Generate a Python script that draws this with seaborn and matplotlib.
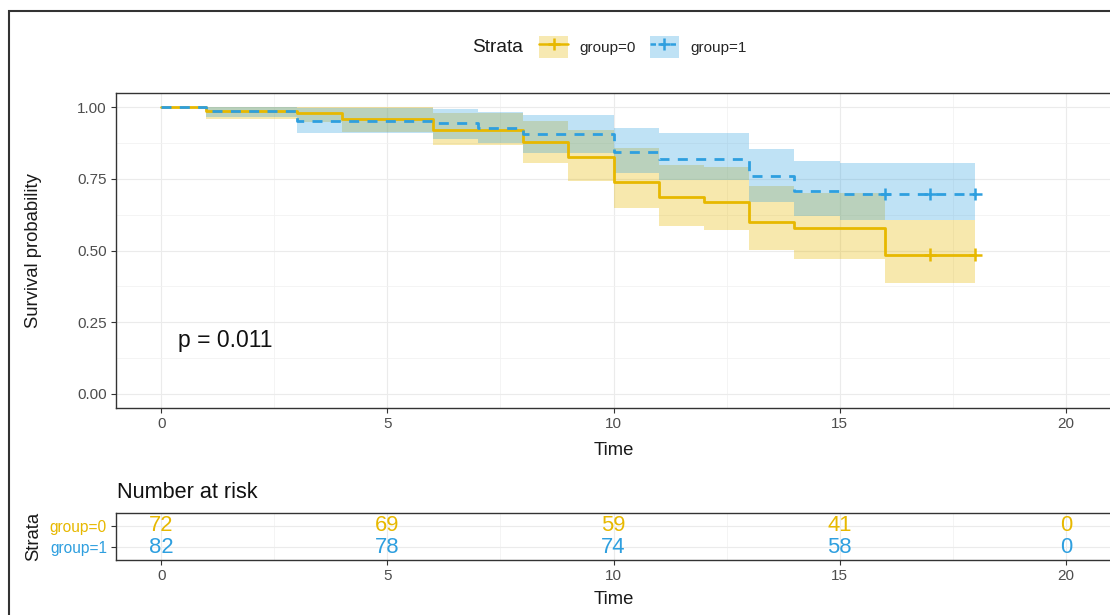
import numpy as np
import pandas as pd
import matplotlib
matplotlib.use("Agg")
import matplotlib.pyplot as plt
import seaborn as sns
from matplotlib.patches import Patch, Rectangle
from matplotlib.lines import Line2D

# --- data ---
strata = ["group=0", "group=1"]
colors = {"group=0": "#E7B800", "group=1": "#2E9FDF"}

time0 = [0, 1, 3, 4, 6, 8, 9, 10, 11, 12, 13, 14, 16, 18]
surv0 = [1.0, 0.986, 0.979, 0.958, 0.920, 0.878, 0.825, 0.738, 0.687, 0.671, 0.599, 0.578, 0.486, 0.486]
lower0 = [1.0, 0.960, 0.950, 0.915, 0.870, 0.806, 0.741, 0.648, 0.584, 0.572, 0.502, 0.469, 0.385, 0.385]
upper0 = [1.0, 1.0, 1.0, 1.0, 0.981, 0.952, 0.920, 0.859, 0.800, 0.790, 0.724, 0.700, 0.607, 0.607]

time1 = [0, 1, 3, 6, 7, 8, 10, 11, 13, 14, 15, 18]
surv1 = [1.0, 0.988, 0.952, 0.946, 0.929, 0.908, 0.845, 0.820, 0.761, 0.707, 0.697, 0.697]
lower1 = [1.0, 0.965, 0.910, 0.890, 0.876, 0.841, 0.771, 0.747, 0.671, 0.619, 0.607, 0.607]
upper1 = [1.0, 1.0, 0.997, 0.995, 0.985, 0.972, 0.929, 0.909, 0.855, 0.812, 0.806, 0.806]

cens_time0 = [17, 18]
cens_surv0 = [0.486, 0.486]
cens_time1 = [16, 17, 18]
cens_surv1 = [0.697, 0.697, 0.697]

risk_times = [0, 5, 10, 15, 20]
risk0 = [72, 69, 59, 41, 0]
risk1 = [82, 78, 74, 58, 0]

pval_text = "p = 0.011"

# --- style ---
sns.set_theme(style="whitegrid", rc={
    "axes.edgecolor": "#333333", "axes.linewidth": 1.0,
    "grid.color": "#EBEBEB", "grid.linewidth": 0.8,
    "xtick.color": "#333333", "ytick.color": "#333333",
    "xtick.labelcolor": "#4D4D4D", "ytick.labelcolor": "#4D4D4D",
    "xtick.bottom": True, "ytick.left": True,
    "xtick.major.size": 3.5, "ytick.major.size": 3.5,
    "xtick.major.width": 0.8, "ytick.major.width": 0.8,
    "xtick.major.pad": 3, "ytick.major.pad": 3,
})
plt.rcParams["font.family"] = ["Liberation Sans", "DejaVu Sans"]

curves = pd.concat([
    pd.DataFrame({"time": time0, "surv": surv0, "strata": "group=0"}),
    pd.DataFrame({"time": time1, "surv": surv1, "strata": "group=1"}),
])
cens = pd.concat([
    pd.DataFrame({"time": cens_time0, "surv": cens_surv0, "strata": "group=0"}),
    pd.DataFrame({"time": cens_time1, "surv": cens_surv1, "strata": "group=1"}),
])

fig = plt.figure(figsize=(11.1, 6.15), dpi=100)
W, H = 1110, 615
ax = fig.add_axes([116 / W, 1 - 408 / H, 995 / W, 315 / H])
axr = fig.add_axes([116 / W, 1 - 560 / H, 995 / W, 47 / H])

# confidence bands
ax.fill_between(time0, lower0, upper0, step="post", color=colors["group=0"], alpha=0.32, lw=0)
ax.fill_between(time1, lower1, upper1, step="post", color=colors["group=1"], alpha=0.3, lw=0)

sns.lineplot(data=curves, x="time", y="surv", hue="strata", style="strata",
             palette=colors, dashes={"group=0": "", "group=1": (3.6, 3.0)},
             drawstyle="steps-post", estimator=None, lw=2.0, legend=False, ax=ax)
sns.scatterplot(data=cens, x="time", y="surv", hue="strata", palette=colors,
                marker="+", s=85, linewidth=1.8, legend=False, ax=ax, zorder=5)

ax.set_xlim(-1, 21)
ax.set_ylim(-0.05, 1.05)
ax.set_xticks([0, 5, 10, 15, 20])
ax.set_xticks([2.5, 7.5, 12.5, 17.5], minor=True)
ax.set_yticks([0, 0.25, 0.5, 0.75, 1.0])
ax.set_yticklabels(["0.00", "0.25", "0.50", "0.75", "1.00"])
ax.set_yticks([0.125, 0.375, 0.625, 0.875], minor=True)
ax.grid(which="minor", color="#F2F2F2", lw=0.6)
ax.tick_params(which="minor", length=0)
ax.tick_params(labelsize=11)
ax.set_xlabel("Time", fontsize=13.3, color="#1A1A1A")
ax.set_ylabel("Survival probability", fontsize=13.3, color="#1A1A1A")
ax.xaxis.set_label_coords(0.5, -0.108)
ax.yaxis.set_label_coords(-0.074, 0.5)
ax.text(0.38, 0.186, pval_text, fontsize=16.5, color="#111111", va="center", ha="left")

# legend
fig.text(472 / W, 1 - 47 / H, "Strata", fontsize=13.8, va="center", ha="left", color="#1A1A1A")
handles = []
for s in strata:
    ls = "-" if s == "group=0" else (0, (2.2, 1.8))
    handles.append((Patch(facecolor=colors[s], alpha=0.3, lw=0),
                    Line2D([], [], color=colors[s], ls=ls, lw=1.8, marker="+",
                           markersize=9, markeredgewidth=1.8)))
fig.legend(handles, strata, ncol=2, loc="center", bbox_to_anchor=(643 / W, 1 - 47 / H),
           frameon=False, fontsize=11, handlelength=1.9, handleheight=1.9,
           handletextpad=0.75, columnspacing=0.9, borderpad=0)

# risk table
fig.text(117 / W, 1 - 492 / H, "Number at risk", fontsize=15.6, va="center", ha="left", color="#111111")
for row, (s, vals) in enumerate([("group=0", risk0), ("group=1", risk1)]):
    ypos = 1 - row
    for t, n in zip(risk_times, vals):
        axr.text(t, ypos, str(n), color=colors[s], fontsize=15.8, ha="center", va="center")
axr.set_xlim(-1, 21)
axr.set_ylim(-0.6, 1.6)
axr.set_xticks([0, 5, 10, 15, 20])
axr.set_xticks([2.5, 7.5, 12.5, 17.5], minor=True)
axr.set_yticks([1, 0])
axr.set_yticklabels(strata)
axr.grid(which="minor", axis="x", color="#F2F2F2", lw=0.6)
axr.tick_params(which="minor", length=0)
axr.tick_params(axis="x", labelsize=11)
axr.tick_params(axis="y", labelsize=11.2)
for lab, s in zip(axr.get_yticklabels(), strata):
    lab.set_color(colors[s])
axr.set_xlabel("Time", fontsize=13.3, color="#1A1A1A")
axr.xaxis.set_label_coords(0.5, -0.66)
axr.set_ylabel("Strata", fontsize=13.3, color="#1A1A1A")
axr.yaxis.set_label_coords(-0.074, 0.5)

# outer frame of the screenshot
fig.add_artist(Rectangle((9 / W, -0.1), 1.2, 0.1 + (1 - 11 / H), transform=fig.transFigure,
                         fill=False, ec="#333333", lw=1.5))

fig.savefig("out.png", dpi=100)
